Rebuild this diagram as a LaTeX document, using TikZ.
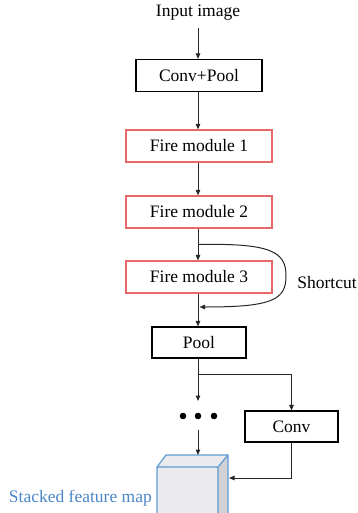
\documentclass[tikz,border=0pt]{standalone}
\usepackage{fontspec}
\setmainfont{Liberation Serif}
\usetikzlibrary{arrows.meta,calc}
\definecolor{firered}{HTML}{E8686A}
\definecolor{cubeblue}{HTML}{5B9BD5}
\definecolor{labelblue}{HTML}{4A86C8}
\definecolor{frontgray}{HTML}{EBEBEE}
\definecolor{sidegray}{HTML}{D2D2D6}
\begin{document}
\begin{tikzpicture}[x=1pt,y=-1pt,
  every node/.style={font=\fontsize{17.5}{19}\selectfont, inner sep=0pt},
  blackbox/.style={draw=black, line width=1.1pt, minimum height=32pt},
  firebox/.style={draw=firered, line width=1.2pt, minimum width=146pt, minimum height=32pt},
  conn/.style={draw=black!85, line width=1pt, -{Triangle[length=5.5pt,width=4.5pt]}},
  plain/.style={draw=black!85, line width=1pt}]
\useasboundingbox (0,0) rectangle (357,513);
\node (inp) at (198,13) {Input image};
\node[blackbox, minimum width=126pt] (cp) at (199,75.5) {Conv+Pool};
\node[firebox] (f1) at (199,146) {Fire module 1};
\node[firebox] (f2) at (199,212) {Fire module 2};
\node[firebox] (f3) at (199,277) {Fire module 3};
\node[blackbox, minimum width=94pt, minimum height=31pt] (pool) at (199,342.5) {Pool};
\node[blackbox, minimum width=93pt, minimum height=31pt] (conv) at (291.5,426.5) {Conv};
\node (short) at (327,283) {Shortcut};
\node (dots) at (198,416) {};
\fill (183,416) circle (3.3pt) (198,416) circle (3.3pt) (214,416) circle (3.3pt);
% cube
\fill[frontgray] (157,467) rectangle (218,520);
\fill[frontgray] (157,467) -- (166,455) -- (228,455) -- (218,467) -- cycle;
\fill[sidegray] (218,467) -- (228,455) -- (228,520) -- (218,520) -- cycle;
\draw[cubeblue, line width=1.2pt, line join=round] (157,520) -- (157,467) -- (166,455) -- (228,455) -- (228,520)
  (157,467) -- (218,467) -- (228,455) (218,467) -- (218,520);
\coordinate (cubetop) at (198,455);
\coordinate (cuberight) at (229,478);
\node[anchor=east, text=labelblue] (lbl) at (152,498) {Stacked feature map};
% connectors
\draw[conn] (198,28) -- (cp.north -| 198,0);
\draw[conn] (cp.south -| 198,0) -- (f1.north -| 198,0);
\draw[conn] (f1.south -| 198,0) -- (f2.north -| 198,0);
\draw[conn] (f2.south -| 198,0) -- (f3.north -| 198,0);
\draw[conn] (f3.south -| 198,0) -- (pool.north -| 198,0);
\coordinate (s1) at (198,244.5);
\coordinate (s2) at (199.5,307);
\draw[conn] (s1) .. controls (272,243) and (286,252) .. (286,276) .. controls (286,300) and (272,307) .. (s2);
\draw[conn] (pool.south -| 198,0) -- (198,401);
\coordinate (br) at (198,374);
\draw[conn] (br) -| (conv.north);
\draw[conn] (198,430) -- (cubetop);
\draw[conn] (conv.south) |- (cuberight);
\end{tikzpicture}
\end{document}
